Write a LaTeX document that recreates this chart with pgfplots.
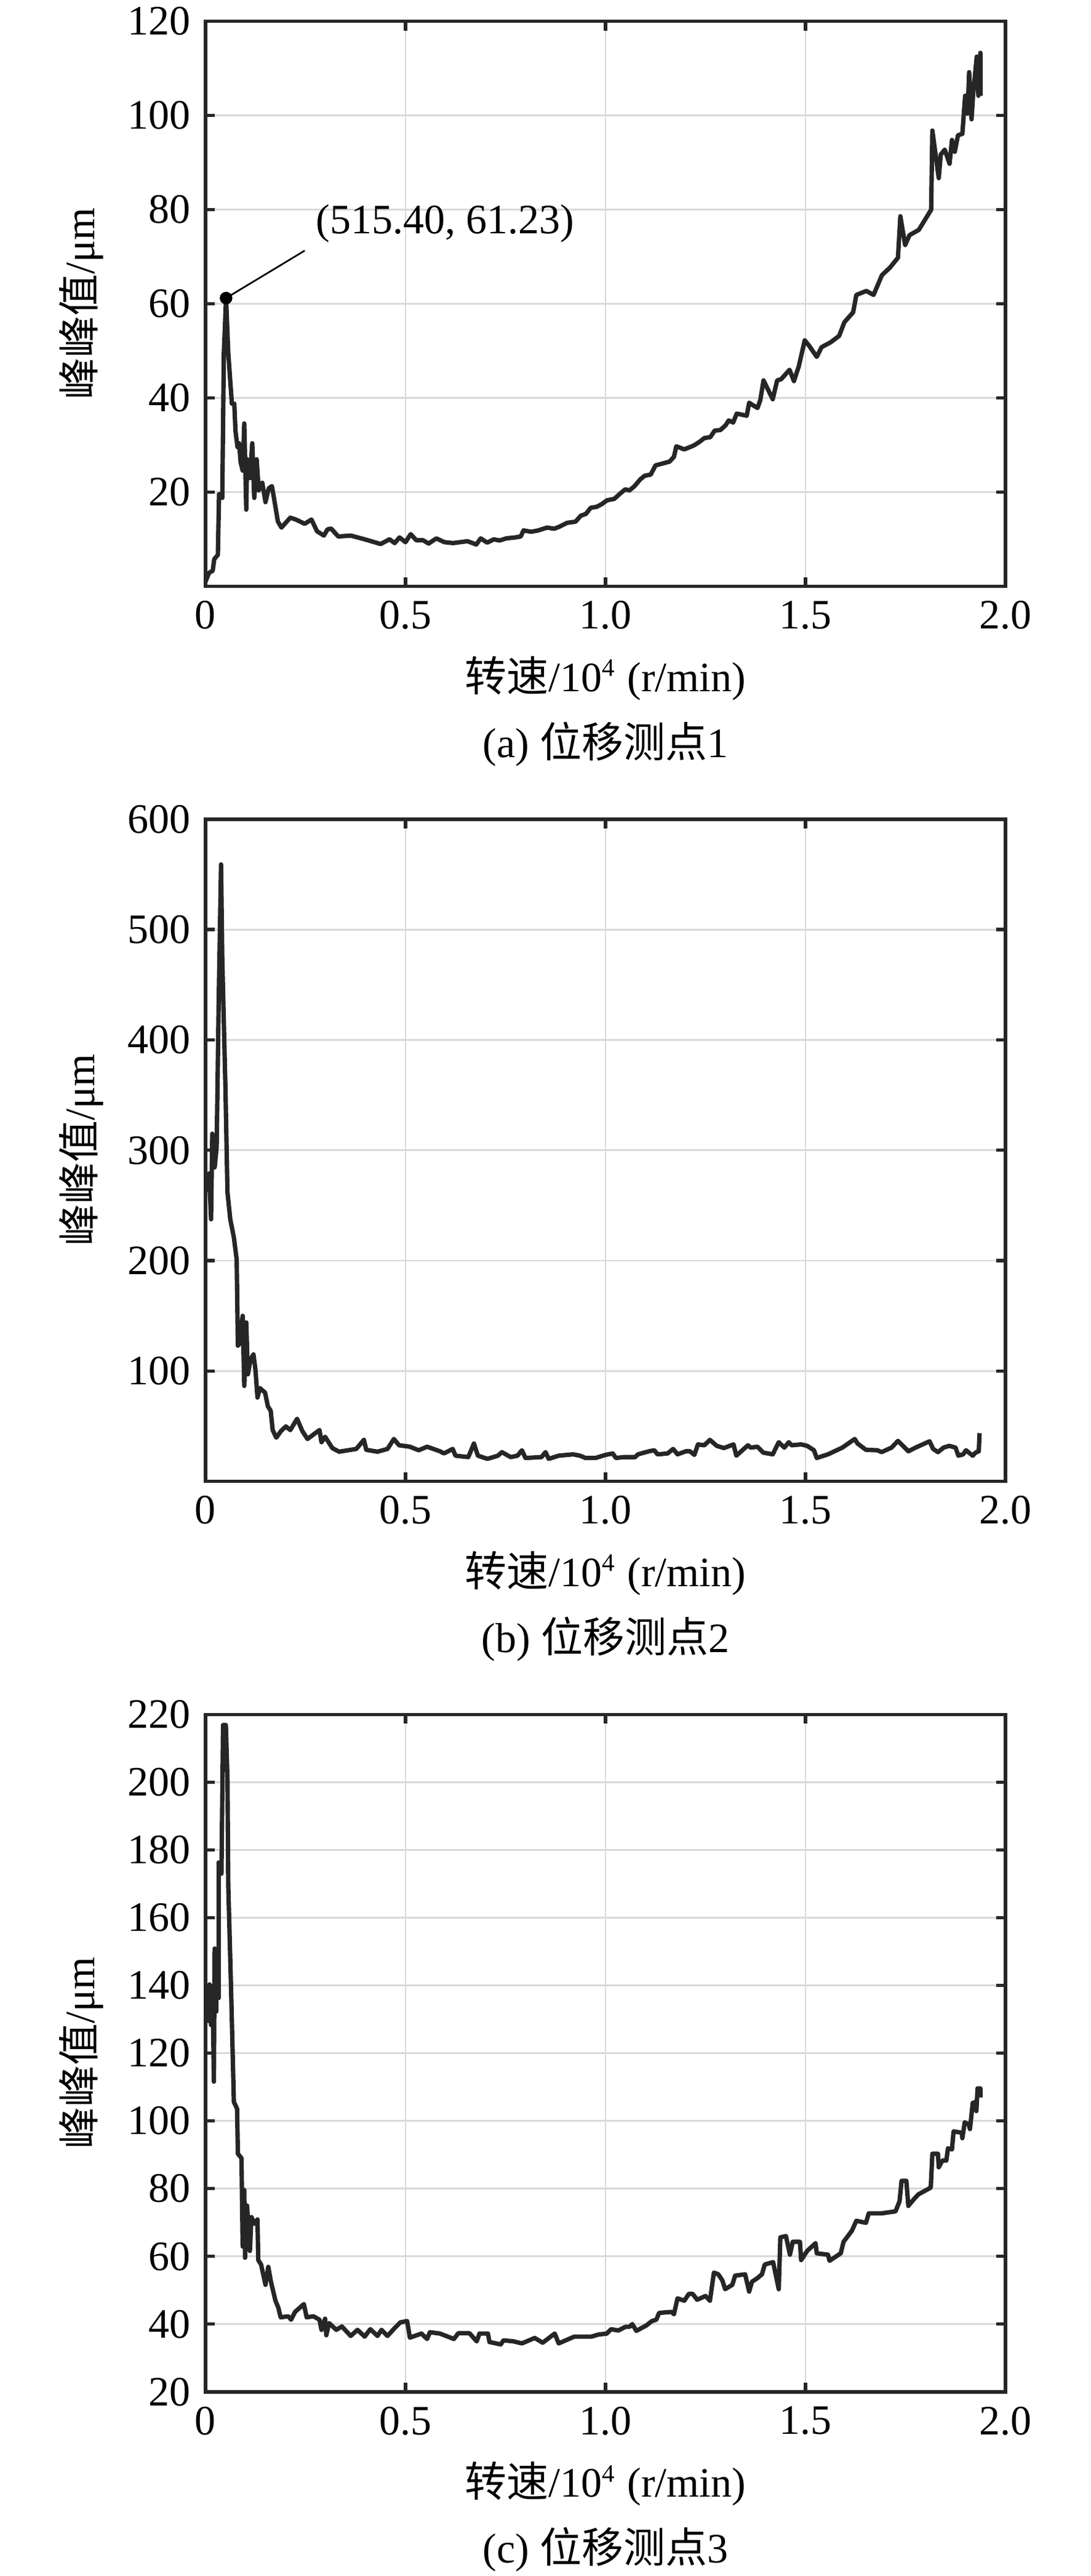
\documentclass[border=0pt]{standalone}
\usepackage{fontspec}
\setmainfont{Liberation Serif}
\newfontfamily\cjk{Noto Sans CJK SC}
\usepackage{pgfplots}
\pgfplotsset{compat=1.18}
\definecolor{axgray}{HTML}{262626}
\definecolor{gridgray}{HTML}{D9D9D9}
\pgfplotsset{
  myax/.style={
    scale only axis, width=191.2pt,
    xmin=0, xmax=2,
    xtick={0,0.5,1,1.5,2}, xticklabels={0,0.5,1.0,1.5,2.0},
    grid=major,
    major grid style={line width=0.4pt, draw=gridgray},
    axis line style={line width=0.8pt, draw=axgray},
    every tick/.style={line width=0.8pt, draw=axgray},
    major tick length=2.2pt,
    tick align=inside,
    ticklabel style={font=\fontsize{10}{12}\selectfont, text=black},
    /pgf/number format/assume math mode=true,
    label style={font=\fontsize{10}{12}\selectfont},
    xlabel={{\cjk 转速}/10\textsuperscript{\fontsize{6}{7}\selectfont 4} (r/min)},
    xlabel style={at={(axis description cs:0.5,0)}, anchor=center, yshift=-22pt},
    ylabel={{\cjk 峰峰值}/μm},
    ylabel style={at={(axis description cs:-0.155,0.5)}, anchor=center},
    clip=false,
  },
  curve/.style={draw=axgray, no markers, line width=1.05pt, line join=round},
}
\begin{document}
\begin{tikzpicture}
\path[use as bounding box] (0,0) rectangle (260.6pt,615.4pt);

% ---------- (a) ----------
\begin{axis}[myax, at={(49.1pt,475.3pt)}, anchor=south west, height=135pt,
  ymin=0, ymax=120, ytick={20,40,60,80,100,120}]
\addplot[curve] coordinates {
(0.000,1.0)(0.009,2.9)(0.018,3.3)(0.022,5.8)(0.031,6.7)(0.034,19.6)(0.042,18.8)
(0.046,49.6)(0.0515,61.23)(0.057,49.6)(0.066,38.8)(0.072,38.8)(0.075,33)(0.080,29.6)
(0.084,30.4)(0.088,26.3)(0.093,24.6)(0.097,34.6)(0.102,16.3)(0.104,27)(0.111,23)
(0.117,30.4)(0.122,18.8)(0.128,27)(0.133,20.4)(0.142,22)(0.150,17.9)(0.158,20.8)
(0.166,21.3)(0.173,17.9)(0.181,13.8)(0.190,12.5)(0.212,14.6)(0.226,14.2)(0.248,13.3)
(0.265,14.2)(0.279,11.7)(0.296,10.8)(0.305,12.1)(0.314,12.3)(0.332,10.6)(0.363,10.8)
(0.398,10)(0.438,9)(0.460,10)(0.473,9.2)(0.485,10.4)(0.500,9.4)(0.513,11.1)(0.527,9.8)
(0.544,9.8)(0.558,9.1)(0.577,10.2)(0.597,9.4)(0.619,9.2)(0.655,9.6)(0.677,8.9)
(0.688,10.2)(0.704,9.3)(0.721,10)(0.735,9.75)(0.752,10.2)(0.774,10.4)(0.788,10.6)
(0.795,11.9)(0.814,11.6)(0.832,11.9)(0.854,12.5)(0.872,12.25)(0.885,12.7)(0.904,13.5)
(0.925,13.75)(0.938,15)(0.951,15.4)(0.963,16.7)(0.978,16.9)(0.991,17.5)(1.004,18.3)
(1.022,18.6)(1.035,19.6)(1.049,20.6)(1.060,20.4)(1.072,21.25)(1.087,22.75)(1.098,23.5)
(1.113,23.75)(1.125,25.7)(1.160,26.5)(1.171,27.5)(1.177,29.75)(1.197,29.1)(1.220,29.9)
(1.235,30.7)(1.247,31.5)(1.262,31.7)(1.273,33.1)(1.287,33.2)(1.300,34.2)(1.308,35.25)
(1.319,34.8)(1.328,36.7)(1.353,36.25)(1.359,39)(1.368,38.5)(1.380,37.9)(1.387,39.6)
(1.395,43.75)(1.418,39.75)(1.429,43.75)(1.439,44)(1.460,46)(1.471,43.6)(1.483,46.7)
(1.498,52.25)(1.509,51.1)(1.528,48.75)(1.540,50.8)(1.562,51.8)(1.584,53.2)(1.597,56.1)
(1.619,58.2)(1.627,61.9)(1.652,62.75)(1.670,61.9)(1.691,66.1)(1.711,67.7)(1.731,69.8)
(1.737,78.6)(1.749,72.5)(1.760,74.6)(1.783,75.7)(1.814,80)(1.817,96.8)(1.833,86.7)
(1.838,91.7)(1.848,92.75)(1.860,89.75)(1.866,94.8)(1.873,92.3)(1.881,95.8)(1.892,96.1)
(1.899,104.2)(1.905,100.4)(1.909,109.2)(1.915,99.2)(1.919,104.6)(1.928,112.5)
(1.932,104.2)(1.937,113.3)(1.937,104.2)
};
\addplot[only marks, mark=*, mark size=1.3pt, color=black] coordinates {(0.0515,61.23)};
\draw[black, line width=0.4pt] (axis cs:0.0515,61.23) -- (axis cs:0.248,71.3);
\node[anchor=west, inner sep=0pt, font=\fontsize{10}{12}\selectfont] at (axis cs:0.274,77.1) {(515.40, 61.23)};
\node[anchor=center, font=\fontsize{10}{12}\selectfont] at (axis description cs:0.5,0) [yshift=-37.7pt] {(a) {\cjk 位移测点}1};
\end{axis}

% ---------- (b) ----------
\begin{axis}[myax, at={(49.1pt,261.5pt)}, anchor=south west, height=158.2pt,
  ymin=0, ymax=600, ytick={100,200,300,400,500,600}]
\addplot[curve] coordinates {
(0.005,262)(0.009,279)(0.014,237.5)(0.017,315)(0.023,284.5)(0.028,303)(0.033,433)
(0.039,559)(0.042,474)(0.050,356)(0.055,262)(0.062,237.5)(0.071,221)(0.078,201)
(0.081,123)(0.086,125)(0.093,150)(0.097,86.5)(0.102,144)(0.106,97)(0.113,111)
(0.120,115)(0.125,101)(0.130,76)(0.136,84.5)(0.149,80.4)(0.156,68)(0.163,64)
(0.168,46.5)(0.177,39.6)(0.189,45.7)(0.201,49.8)(0.212,46.5)(0.229,56.7)(0.242,45.7)
(0.255,38.4)(0.285,46.5)(0.290,35.5)(0.299,40.4)(0.317,30.2)(0.334,26.9)(0.377,29.4)
(0.396,37.6)(0.402,28.6)(0.430,26.9)(0.455,29.4)(0.471,38.4)(0.484,32.7)(0.511,31.4)
(0.533,28.2)(0.554,31.4)(0.586,27.3)(0.596,25.3)(0.618,29.4)(0.625,23.3)(0.657,22)
(0.671,34.3)(0.681,23.3)(0.705,20.4)(0.731,23.3)(0.741,26.5)(0.763,22)(0.780,23.3)
(0.791,28.2)(0.800,21.2)(0.840,22)(0.850,26.5)(0.858,20.4)(0.883,23.3)(0.919,24.5)
(0.936,23.3)(0.950,21.2)(0.975,21.2)(1.000,24)(1.018,25.3)(1.026,21.2)(1.046,22)
(1.074,22)(1.081,24.5)(1.109,27.3)(1.122,28.2)(1.130,24.5)(1.155,25.3)(1.169,29.4)
(1.180,24.5)(1.201,27.3)(1.211,27.3)(1.222,24)(1.231,33.5)(1.247,32.7)(1.261,37.6)
(1.278,32.2)(1.296,30.2)(1.320,33.5)(1.327,23.3)(1.356,32.7)(1.363,30.6)(1.380,31.4)
(1.394,26.1)(1.418,24.5)(1.433,35.5)(1.447,30.6)(1.458,35.5)(1.465,32.7)(1.489,33.5)
(1.504,32.2)(1.521,28.2)(1.528,21.2)(1.556,24.5)(1.592,30.6)(1.623,38.4)(1.630,34.3)
(1.651,28.6)(1.680,28.2)(1.690,26.5)(1.715,30.6)(1.731,36.7)(1.757,27.3)(1.775,30.6)
(1.810,36.3)(1.819,29.4)(1.831,26.5)(1.845,30.6)(1.859,32.2)(1.875,30.6)(1.882,23.3)
(1.894,24.5)(1.901,28.2)(1.918,23.3)(1.925,26.1)(1.933,27.3)(1.935,43.7)
};
\node[anchor=center, font=\fontsize{10}{12}\selectfont] at (axis description cs:0.5,0) [yshift=-37.7pt] {(b) {\cjk 位移测点}2};
\end{axis}

% ---------- (c) ----------
\begin{axis}[myax, at={(49.1pt,44.0pt)}, anchor=south west, height=161.8pt,
  ymin=20, ymax=220, ytick={20,40,60,80,100,120,140,160,180,200,220}]
\addplot[curve] coordinates {
(0.007,128.9)(0.010,140.3)(0.014,128.3)(0.016,139.6)(0.019,129.6)(0.021,111.6)
(0.023,150.9)(0.027,132.3)(0.028,148.3)(0.033,136.3)(0.033,176.3)(0.040,173)
(0.044,216.9)(0.051,216.9)(0.055,201)(0.057,169.6)(0.064,138.9)(0.071,105.6)
(0.079,103.6)(0.081,90.3)(0.090,89)(0.093,62.9)(0.097,79.6)(0.099,59.6)(0.104,75)
(0.111,61.6)(0.115,71.6)(0.123,69.6)(0.130,70.9)(0.132,58.9)(0.139,57.6)(0.150,51.6)
(0.157,56.9)(0.164,52.3)(0.175,46.9)(0.182,44.9)(0.188,42)(0.207,42.3)(0.214,41.3)
(0.224,43.6)(0.246,45.9)(0.253,42)(0.270,42.3)(0.285,41.3)(0.290,38.3)(0.299,41.6)
(0.302,36.7)(0.309,40.3)(0.327,38.3)(0.341,39.3)(0.363,36.5)(0.380,38.3)(0.398,36.3)
(0.412,38.5)(0.430,36.5)(0.440,38.3)(0.455,36.5)(0.472,38.7)(0.487,40.5)(0.504,40.9)
(0.511,36)(0.540,37.2)(0.554,35.6)(0.561,37.6)(0.586,37.2)(0.621,35.6)(0.632,37.3)
(0.660,37.3)(0.678,34.9)(0.685,37.2)(0.706,37.2)(0.710,34.7)(0.738,34)(0.745,35.2)
(0.770,34.9)(0.791,34.3)(0.823,35.9)(0.843,34.5)(0.873,37.2)(0.883,34.3)(0.922,36.3)
(0.936,36.3)(0.965,36.3)(0.982,36.9)(1.003,37.2)(1.014,38.5)(1.032,38.1)(1.050,39.2)
(1.060,39.2)(1.067,40)(1.077,38)(1.102,39.6)(1.116,40.9)(1.127,41.3)(1.134,43.3)
(1.165,43.6)(1.171,42.9)(1.180,47.6)(1.197,46.9)(1.208,48.9)(1.218,48.9)(1.229,47.2)
(1.250,48.3)(1.261,46.9)(1.271,55.2)(1.282,54.7)(1.292,52.9)(1.299,50.3)(1.317,51.6)
(1.324,54.3)(1.349,54.7)(1.359,49.6)(1.366,52.5)(1.380,53.6)(1.391,54.7)(1.398,57.6)
(1.419,58.3)(1.433,50.3)(1.437,65.6)(1.451,66)(1.461,60.5)(1.468,64.3)(1.486,64.3)
(1.489,58.9)(1.504,61.6)(1.525,63.9)(1.528,60.9)(1.556,60.5)(1.560,58.7)(1.588,60.9)
(1.595,64.3)(1.616,67.6)(1.627,70.5)(1.651,69.9)(1.658,72.7)(1.690,72.7)(1.725,73.3)
(1.735,76.3)(1.740,82.3)(1.752,82.3)(1.757,74.9)(1.771,76.9)(1.782,78.3)(1.813,80.3)
(1.817,90.3)(1.831,90.3)(1.833,86.3)(1.842,88.3)(1.852,88.3)(1.856,91.9)(1.866,91.6)
(1.870,96.9)(1.891,96.5)(1.892,94.9)(1.898,99.6)(1.908,98.9)(1.911,97.6)(1.918,105.3)
(1.926,105.6)(1.927,102.9)(1.930,109.6)(1.937,109.6)(1.937,106.9)
};
\node[anchor=center, font=\fontsize{10}{12}\selectfont] at (axis description cs:0.5,0) [yshift=-37.7pt] {(c) {\cjk 位移测点}3};
\end{axis}
\end{tikzpicture}
\end{document}
